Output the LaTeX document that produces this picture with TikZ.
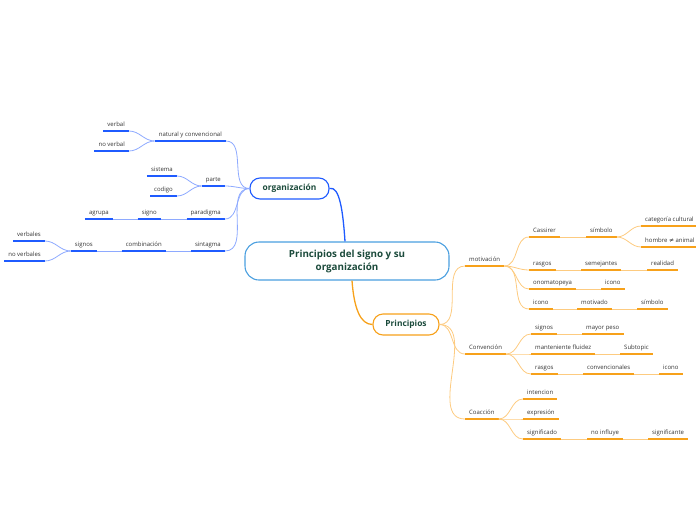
\documentclass[tikz,border=0pt]{standalone}
\usepackage{fontspec}
\setmainfont{Open Sans}
\newfontfamily\djv{DejaVu Sans}
\definecolor{bl}{HTML}{1F5BFF}
\definecolor{blc}{HTML}{8EAAFF}
\definecolor{cb}{HTML}{4A9FE0}
\definecolor{og}{HTML}{F7A11A}
\definecolor{ogc}{HTML}{FDCB80}
\definecolor{tx}{HTML}{333333}
\definecolor{gr}{HTML}{1C4B3C}
\tikzset{
  lab/.style={inner xsep=4pt, inner ysep=3.3pt, text height=4.2pt, text depth=1.5pt,
    font=\fontsize{6}{7}\selectfont, text=tx},
  lb/.style={lab, anchor=south east, append after command={
     \pgfextra{\draw[bl, line width=1.6pt] (\tikzlastnode.south west) -- (\tikzlastnode.south east);}}},
  ro/.style={lab, anchor=south west, append after command={
     \pgfextra{\draw[og, line width=1.6pt] (\tikzlastnode.south west) -- (\tikzlastnode.south east);}}},
  lconn/.style={blc, line width=0.8pt},
  rconn/.style={ogc, line width=0.8pt},
  hub/.style={draw, rounded corners=10pt, fill=white, text=gr, font=\bfseries\fontsize{8.4}{10}\selectfont, line width=1.1pt, inner sep=0pt},
}
\begin{document}
\begin{tikzpicture}[x=1pt,y=-1pt]
\useasboundingbox (0,0) rectangle (696,520);
% hubs
\node[hub, draw=cb, minimum width=204pt, minimum height=38pt, rounded corners=14pt, align=center, font=\bfseries\fontsize{9.8}{13}\selectfont] (center) at (347,261) {Principios del signo y su\\organización};
\node[hub, draw=bl, minimum width=79pt, minimum height=21pt] (org) at (289.5,188.5) {organización};
\node[hub, draw=og, minimum width=66pt, minimum height=21pt] (princ) at (406,324.5) {Principios};
\draw[bl, line width=1.3pt] ([xshift=-2pt]center.north) .. controls +(-2,-30) and +(10,-3) .. (org.east);
\draw[og, line width=1.3pt] ([xshift=5pt]center.south) .. controls +(2,28) and +(-12,0) .. (princ.west);
% left branch
\node[lb] (nat) at (226,141) {natural y convencional};
\node[lb] (verbal) at (129,131) {verbal};
\node[lb] (noverbal) at (129,151) {no verbal};
\node[lb] (parte) at (225,186) {parte};
\node[lb] (sistema) at (177,176) {sistema};
\node[lb] (codigo) at (177,196) {codigo};
\node[lb] (paradigma) at (225,219) {paradigma};
\node[lb] (signo) at (161,219) {signo};
\node[lb] (agrupa) at (113,219) {agrupa};
\node[lb] (sintagma) at (225,251) {sintagma};
\node[lb] (combinacion) at (166,251) {combinación};
\node[lb] (signosL) at (97,251) {signos};
\node[lb] (verbales) at (45,241) {verbales};
\node[lb] (noverbales) at (45,261) {no verbales};
\foreach \n in {nat,parte,paradigma,sintagma}
  \draw[lconn] (\n.south east) to[out=0,in=180] (org.west);
\foreach \n in {verbal,noverbal}
  \draw[lconn] (\n.south east) to[out=0,in=180] (nat.south west);
\foreach \n in {sistema,codigo}
  \draw[lconn] (\n.south east) to[out=0,in=180] (parte.south west);
\draw[lconn] (signo.south east) -- (paradigma.south west);
\draw[lconn] (agrupa.south east) -- (signo.south west);
\draw[lconn] (combinacion.south east) -- (sintagma.south west);
\draw[lconn] (signosL.south east) -- (combinacion.south west);
\foreach \n in {verbales,noverbales}
  \draw[lconn] (\n.south east) to[out=0,in=180] (signosL.south west);
% right branch
\node[ro] (motiv) at (465,266) {motivación};
\node[ro] (cassirer) at (529,237) {Cassirer};
\node[ro] (simbolo1) at (586,237) {símbolo};
\node[ro] (categoria) at (641,226) {categoría cultural};
\node[ro] (hombre) at (641,247) {hombre {\djv ≠} animal};
\node[ro] (rasgos1) at (529,270) {rasgos};
\node[ro] (semejantes) at (581,270) {semejantes};
\node[ro] (realidad) at (647,270) {realidad};
\node[ro] (onomat) at (529,289) {onomatopeya};
\node[ro] (icono1) at (601,289) {icono};
\node[ro] (icono2) at (529,309) {icono};
\node[ro] (motivado) at (577,309) {motivado};
\node[ro] (simbolo2) at (637,309) {símbolo};
\node[ro] (conv) at (465,354) {Convención};
\node[ro] (signosR) at (531,334) {signos};
\node[ro] (mayor) at (582,334) {mayor peso};
\node[ro] (mant) at (531,354) {manteniente fluidez};
\node[ro] (subtopic) at (620,354) {Subtopic};
\node[ro] (rasgos2) at (531,374) {rasgos};
\node[ro] (convencionales) at (583,374) {convencionales};
\node[ro] (icono3) at (659,374) {icono};
\node[ro] (coac) at (465,419) {Coacción};
\node[ro] (intencion) at (523,399) {intencion};
\node[ro] (expresion) at (523,419) {expresión};
\node[ro] (significado) at (523,439) {significado};
\node[ro] (noinfluye) at (587,439) {no influye};
\node[ro] (significante) at (648,439) {significante};
\foreach \n in {motiv,conv,coac}
  \draw[rconn] (princ.east) to[out=0,in=180] (\n.south west);
\foreach \n in {cassirer,rasgos1,onomat,icono2}
  \draw[rconn] (motiv.south east) to[out=0,in=180] (\n.south west);
\foreach \n in {categoria,hombre}
  \draw[rconn] (simbolo1.south east) to[out=0,in=180] (\n.south west);
\draw[rconn] (cassirer.south east) -- (simbolo1.south west);
\draw[rconn] (rasgos1.south east) -- (semejantes.south west);
\draw[rconn] (semejantes.south east) -- (realidad.south west);
\draw[rconn] (onomat.south east) -- (icono1.south west);
\draw[rconn] (icono2.south east) -- (motivado.south west);
\draw[rconn] (motivado.south east) -- (simbolo2.south west);
\foreach \n in {signosR,mant,rasgos2}
  \draw[rconn] (conv.south east) to[out=0,in=180] (\n.south west);
\draw[rconn] (signosR.south east) -- (mayor.south west);
\draw[rconn] (mant.south east) -- (subtopic.south west);
\draw[rconn] (rasgos2.south east) -- (convencionales.south west);
\draw[rconn] (convencionales.south east) -- (icono3.south west);
\foreach \n in {intencion,expresion,significado}
  \draw[rconn] (coac.south east) to[out=0,in=180] (\n.south west);
\draw[rconn] (significado.south east) -- (noinfluye.south west);
\draw[rconn] (noinfluye.south east) -- (significante.south west);
\end{tikzpicture}
\end{document}
